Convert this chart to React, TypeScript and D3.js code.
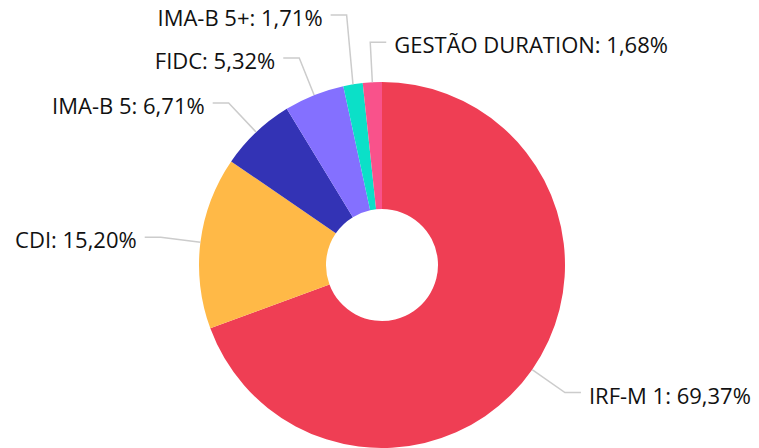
import React from "react";
import * as d3 from "d3";

const categories = ["IRF-M 1", "CDI", "IMA-B 5", "FIDC", "IMA-B 5+", "GESTÃO DURATION"];
const values = [69.37, 15.2, 6.71, 5.32, 1.71, 1.68];
const colors = ["#EF3E54", "#FFB947", "#3333B5", "#8470FF", "#0BE0C8", "#F9528B"];

const W = 759;
const H = 448;
const cx = 382;
const cy = 265;
const R = 183;
const r0 = 56;
const len1 = 40;
const len2 = 16;
const gap = 8;
const minGap = 43;
const fmt = (v: number) => v.toFixed(2).replace(".", ",") + "%";

export default function App() {
  const pie = d3.pie<number>().sort(null).value((d) => d)(values);
  const arc = d3.arc<d3.PieArcDatum<number>>().innerRadius(r0).outerRadius(R);

  const labels = pie.map((p, i) => {
    const mid = (p.startAngle + p.endAngle) / 2;
    const sx = cx + R * Math.sin(mid);
    const sy = cy - R * Math.cos(mid);
    const bx = cx + (R + len1) * Math.sin(mid);
    const by = cy - (R + len1) * Math.cos(mid);
    const right = Math.sin(mid) > -0.1;
    return { i, sx, sy, bx, by, right };
  });

  const left = labels.filter((l) => !l.right).sort((a, b) => b.by - a.by);
  for (let k = 1; k < left.length; k++) {
    left[k].by = Math.min(left[k].by, left[k - 1].by - minGap);
  }
  const rightL = labels.filter((l) => l.right).sort((a, b) => a.by - b.by);
  for (let k = 1; k < rightL.length; k++) {
    rightL[k].by = Math.max(rightL[k].by, rightL[k - 1].by + minGap);
  }

  return (
    <svg
      width={W}
      height={H}
      style={{ position: "absolute", left: 0, top: 0, background: "#fff" }}
      fontFamily="'Open Sans', 'Noto Sans', sans-serif"
    >
      <g transform={`translate(${cx},${cy})`}>
        {pie.map((p, i) => (
          <path key={i} d={arc(p) || ""} fill={colors[i]} />
        ))}
      </g>
      {labels.map((l) => {
        const ex = l.right ? l.bx + len2 : l.bx - len2;
        const tx = l.right ? ex + gap : ex - gap;
        return (
          <g key={l.i}>
            <polyline
              points={`${l.sx},${l.sy} ${l.bx},${l.by} ${ex},${l.by}`}
              fill="none"
              stroke="#cccccc"
              strokeWidth={1.5}
            />
            <text
              x={tx}
              y={l.by + 11}
              textAnchor={l.right ? "start" : "end"}
              fontSize={22}
              fill="#111111"
            >
              {`${categories[l.i]}: ${fmt(values[l.i])}`}
            </text>
          </g>
        );
      })}
    </svg>
  );
}
